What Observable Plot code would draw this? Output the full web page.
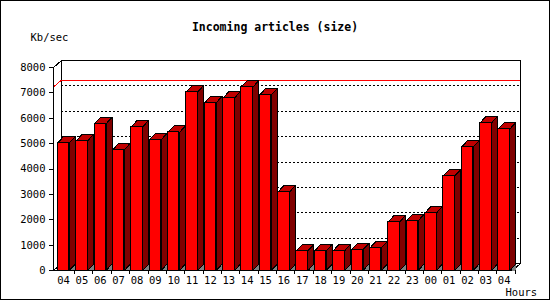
<!DOCTYPE html>
<html>
<head>
<meta charset="utf-8">
<script src="https://cdn.jsdelivr.net/npm/d3@7"></script>
<script src="https://cdn.jsdelivr.net/npm/@observablehq/plot@0.6"></script>
<style>
  body { margin: 0; background: #fff; }
  #wrap { position: relative; width: 550px; height: 300px; overflow: hidden; background: #fff; }
  #wrap svg { position: absolute; left: 0; top: 0; shape-rendering: crispEdges; }
  #wrap svg text { shape-rendering: auto; }
  #border { position: absolute; left: 0; top: 0; width: 550px; height: 300px; box-sizing: border-box; border: 1px solid #000; pointer-events: none; }
</style>
</head>
<body>
<div id="wrap"><div id="border"></div></div>
<script>
// ---- data ----
const title = "Incoming articles (size)";
const yUnit = "Kb/sec";
const xUnit = "Hours";
const hours = ["04","05","06","07","08","09","10","11","12","13","14","15","16",
               "17","18","19","20","21","22","23","00","01","02","03","04"];
const sizes = [5030, 5110, 5780, 4760, 5660, 5150, 5440, 7040, 6610, 6800, 7230, 6920, 3100,
               780, 780, 780, 820, 890, 1920, 1960, 2270, 3730, 4870, 5820, 5580];
const yTicks = [0, 1000, 2000, 3000, 4000, 5000, 6000, 7000, 8000];
const gridLevels = [1000, 2000, 3000, 4000, 5000, 6000, 7000];
const yMax = 8000;

// ---- geometry (pixel styling converted into data units) ----
const N = hours.length;
const mL = 53, mR = 38, mT = 67, mB = 30, W = 550, H = 300;
const pxX = (W - mL - mR) / N;          // px per band
const pxY = (H - mT - mB) / yMax;       // px per Kb/sec
const wallDX = 8 / pxX, wallDY = 7 / pxY;
const barDX = 6 / pxX, barDY = 6.5 / pxY;
const faceOff = 4.3 / pxX, faceW = 11.5 / pxX;

const bars = sizes.map((v, i) => ({i, v, label: hours[i], x1: i + faceOff, x2: i + faceOff + faceW}));
const poly = (b, pts) => pts.map(([x, y]) => ({id: b.i, x, y}));
const shadows = bars.flatMap(b => poly(b, [[b.x2, 0], [b.x2 + barDX, barDY], [b.x2 + barDX, 0], [b.x2, 0]]));
const sides = bars.flatMap(b => poly(b, [[b.x2, 0], [b.x2 + barDX, barDY], [b.x2 + barDX, b.v + barDY], [b.x2, b.v], [b.x2, 0]]));
const tops = bars.flatMap(b => poly(b, [[b.x1, b.v], [b.x1 + barDX, b.v + barDY], [b.x2 + barDX, b.v + barDY], [b.x2, b.v], [b.x1, b.v]]));
const maxVal = d3.max(sizes);

const mono = "DejaVu Sans Mono";

const chart = Plot.plot({
  width: W, height: H,
  marginLeft: mL, marginRight: mR, marginTop: mT, marginBottom: mB,
  x: {domain: [0, N], axis: null},
  y: {domain: [0, yMax], axis: null},
  style: {background: "white", overflow: "visible"},
  marks: [
    // back wall
    Plot.rect([0], {x1: () => wallDX, x2: () => N + wallDX, y1: () => wallDY, y2: () => yMax + wallDY,
                    fill: "white", stroke: "black", strokeWidth: 1}),
    // dotted grid on back wall
    Plot.ruleY(gridLevels, {y: d => d + wallDY, x1: () => wallDX, x2: () => N + wallDX,
                            stroke: "black", strokeDasharray: "2,2", strokeWidth: 1}),
    // max line (red) on back wall and left wall
    Plot.ruleY([maxVal], {y: d => d + wallDY, x1: () => wallDX, x2: () => N + wallDX, stroke: "red", strokeWidth: 1}),
    Plot.link([maxVal], {x1: () => 0, y1: d => d, x2: () => wallDX, y2: d => d + wallDY, stroke: "red", strokeWidth: 1}),
    // wall edges
    Plot.link([yMax], {x1: () => 0, y1: d => d, x2: () => wallDX, y2: d => d + wallDY, stroke: "black", strokeWidth: 1}),
    Plot.link([0], {x1: () => 0, y1: d => d, x2: () => wallDX, y2: d => d + wallDY, stroke: "black", strokeWidth: 1}),
    Plot.link([0], {x1: () => N, y1: d => d, x2: () => N + wallDX, y2: d => d + wallDY, stroke: "black", strokeWidth: 1}),
    // bars
    Plot.line(shadows, {x: "x", y: "y", z: "id", fill: "#808080", stroke: "none", curve: "linear"}),
    Plot.line(sides, {x: "x", y: "y", z: "id", fill: "#800000", stroke: "black", strokeWidth: 1, curve: "linear", strokeLinejoin: "miter"}),
    Plot.line(tops, {x: "x", y: "y", z: "id", fill: "#c00000", stroke: "black", strokeWidth: 1, curve: "linear", strokeLinejoin: "miter"}),
    Plot.rect(bars, {x1: "x1", x2: "x2", y1: () => 0, y2: "v", fill: "#ff0000", stroke: "black", strokeWidth: 1}),
    // axes
    Plot.ruleX([0], {x: d => d, y1: () => 0, y2: () => yMax, stroke: "black", strokeWidth: 1}),
    Plot.ruleY([0], {y: d => d, x1: () => 0, x2: () => N, stroke: "black", strokeWidth: 1}),
    Plot.ruleY(yTicks, {y: d => d, x1: () => -4 / pxX, x2: () => 0, stroke: "black", strokeWidth: 1}),
    Plot.text(yTicks, {x: () => 0, y: d => d, text: d => String(d), dx: -8, textAnchor: "end", lineAnchor: "middle",
                       fontFamily: mono, fontSize: 10.5, fill: "black"}),
    Plot.ruleX(d3.range(1, N + 1), {x: d => d + 0.15, y1: () => 0, y2: () => -4 / pxY, stroke: "black", strokeWidth: 1}),
    Plot.text(bars, {x: b => b.x1 + faceW / 2, y: () => 0, dy: 10, text: "label", lineAnchor: "middle",
                     fontFamily: mono, fontSize: 10.5, fill: "black"}),
    // titles
    Plot.text([title], {frameAnchor: "top", text: d => d, dx: -8, dy: -40, lineAnchor: "middle",
                        fontFamily: mono, fontWeight: "bold", fontSize: 11.5, fill: "black"}),
    Plot.text([yUnit], {frameAnchor: "top-left", text: d => d, dx: -23, dy: -30, textAnchor: "start", lineAnchor: "middle",
                        fontFamily: mono, fontSize: 10.5, fill: "black"}),
    Plot.text([xUnit], {frameAnchor: "bottom-right", text: d => d, dx: -7, dy: 22, textAnchor: "start", lineAnchor: "middle",
                        fontFamily: mono, fontSize: 10.5, fill: "black"})
  ]
});
document.getElementById("wrap").insertBefore(chart, document.getElementById("border"));
</script>
</body>
</html>
